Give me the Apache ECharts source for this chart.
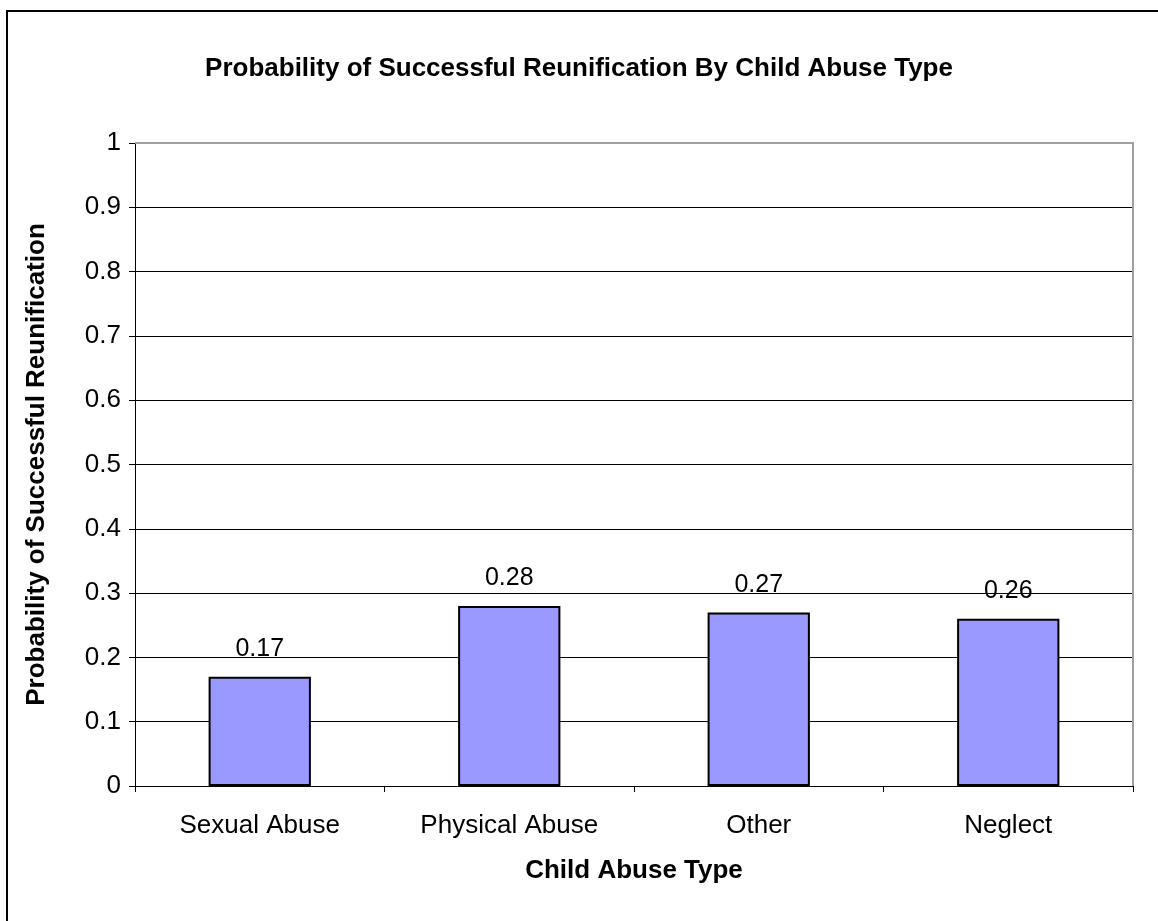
<!DOCTYPE html>
<html>
<head>
<meta charset="utf-8">
<script src="https://cdn.jsdelivr.net/npm/echarts@6/dist/echarts.min.js"></script>
<style>
  html, body { margin: 0; padding: 0; background: #fff; }
  #wrap { position: relative; width: 1158px; height: 921px; overflow: hidden; }
  #frame { position: absolute; left: 6px; top: 10px; width: 1200px; height: 1000px; border-left: 2px solid #000; border-top: 2px solid #000; }
  #chart { position: absolute; left: 0; top: 0; width: 1158px; height: 921px; }
</style>
</head>
<body>
<div id="wrap">
  <div id="frame"></div>
  <div id="chart"></div>
</div>
<script>
const categories = ["Sexual Abuse", "Physical Abuse", "Other", "Neglect"];
const probabilities = [0.17, 0.28, 0.27, 0.26];

const font = "Arial, 'Liberation Sans', sans-serif";
const chart = echarts.init(document.getElementById("chart"));

chart.setOption({
  animation: false,
  title: {
    text: "Probability of Successful Reunification By Child Abuse Type",
    left: "center",
    top: 51,
    textStyle: { fontFamily: font, fontSize: 26, fontWeight: "bold", color: "#000" }
  },
  grid: { left: 135, top: 143, right: 25, bottom: 135 },
  xAxis: {
    type: "category",
    data: categories,
    name: "Child Abuse Type",
    nameLocation: "middle",
    nameGap: 72,
    nameTextStyle: { fontFamily: font, fontSize: 26, fontWeight: "bold", color: "#000" },
    axisLine: { lineStyle: { color: "#000", width: 1 } },
    axisTick: { show: true, length: 6, alignWithLabel: false, lineStyle: { color: "#000" } },
    axisLabel: { margin: 27, fontFamily: font, fontSize: 26, color: "#000" }
  },
  yAxis: {
    type: "value",
    min: 0,
    max: 1,
    interval: 0.1,
    name: "Probability of Successful Reunification",
    nameLocation: "middle",
    nameGap: 85,
    nameTextStyle: { fontFamily: font, fontSize: 26, fontWeight: "bold", color: "#000" },
    axisLine: { show: true, lineStyle: { color: "#000", width: 1 } },
    axisTick: { show: true, length: 6, inside: false, lineStyle: { color: "#000" } },
    axisLabel: { margin: 14, fontFamily: font, fontSize: 26, color: "#000" },
    splitLine: { show: true, lineStyle: { color: "#000", width: 1 } }
  },
  series: [
    {
      type: "bar",
      data: probabilities,
      barWidth: "41%",
      itemStyle: { color: "#9999FF", borderColor: "#000", borderWidth: 2 },
      label: {
        show: true,
        position: "top",
        distance: 15,
        fontFamily: font,
        fontSize: 25,
        color: "#000"
      }
    }
  ],
  graphic: [
    {
      type: "polyline",
      shape: { points: [[135, 143], [1133, 143], [1133, 786]] },
      style: { stroke: "#a0a0a0", lineWidth: 2, fill: null },
      z: 10
    }
  ]
});
</script>
</body>
</html>
